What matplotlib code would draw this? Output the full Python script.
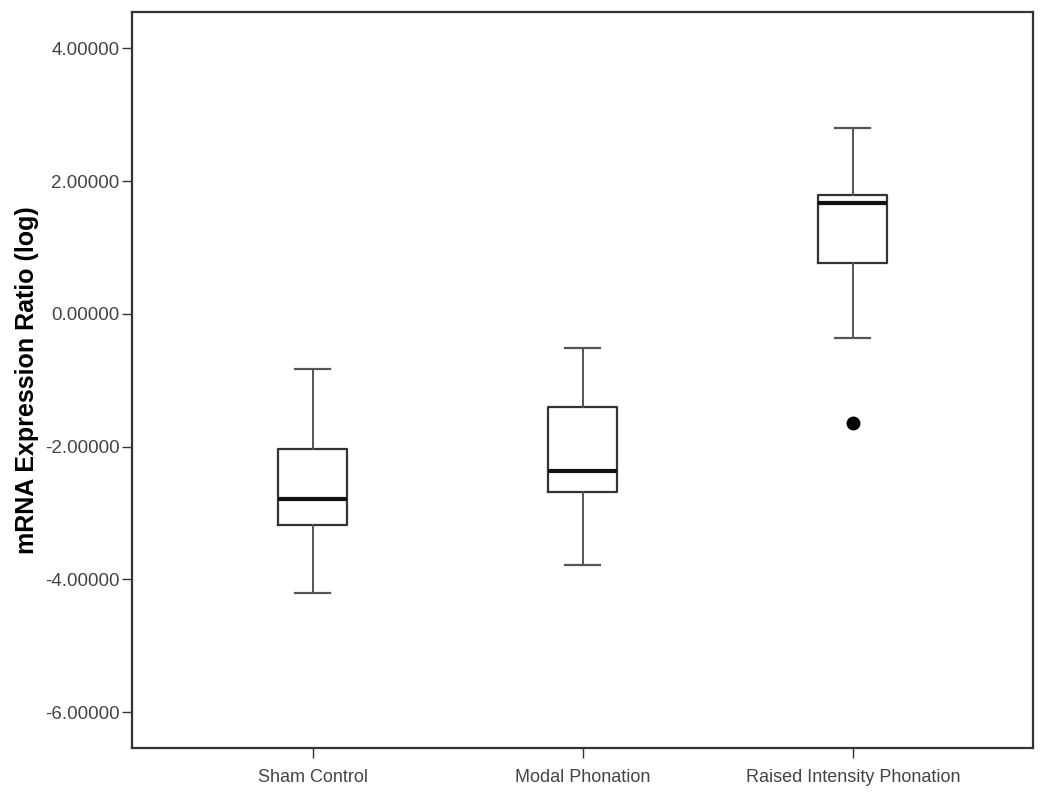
import matplotlib
matplotlib.use("Agg")
import matplotlib.pyplot as plt

# ==== データ ====
groups = ["Sham Control", "Modal Phonation", "Raised Intensity Phonation"]
whisker_low = [-4.21, -3.79, -0.37]
q1 = [-3.18, -2.69, 0.76]
median = [-2.79, -2.37, 1.67]
q3 = [-2.04, -1.40, 1.79]
whisker_high = [-0.83, -0.52, 2.80]
outliers = [[], [], [-1.65]]

yticks = [4.0, 2.0, 0.0, -2.0, -4.0, -6.0]

plt.rcParams["font.family"] = ["Liberation Sans", "DejaVu Sans"]

fig = plt.figure(figsize=(10.5, 7.98), dpi=100)
ax = fig.add_axes([0.1257, 0.0627, 0.8581, 0.9223])

stats = []
for i, name in enumerate(groups):
    stats.append(dict(
        label=name, whislo=whisker_low[i], q1=q1[i], med=median[i],
        q3=q3[i], whishi=whisker_high[i], fliers=outliers[i],
    ))

ax.bxp(
    stats, positions=[1, 2, 3], widths=0.255, showfliers=True,
    boxprops=dict(color="#333333", linewidth=1.6),
    whiskerprops=dict(color="#555555", linewidth=1.4),
    capprops=dict(color="#555555", linewidth=1.6),
    medianprops=dict(color="#111111", linewidth=3.0),
    flierprops=dict(marker="o", markerfacecolor="black", markeredgecolor="black",
                    markersize=9),
    capwidths=0.13,
)

ax.set_xlim(0.33, 3.667)
ax.set_ylim(-6.54, 4.55)
ax.set_yticks(yticks)
ax.set_yticklabels([f"{v:.5f}" for v in yticks])
ax.set_xticks([1, 2, 3])
ax.set_xticklabels(groups)

ax.tick_params(direction="out", length=7, width=1.0, color="#333333",
               labelsize=13.5, labelcolor="#444444", pad=2)
ax.tick_params(axis="x", labelsize=13, pad=8)
for side in ["left", "right", "top", "bottom"]:
    ax.spines[side].set_color("#333333")
    ax.spines[side].set_linewidth(1.6)

ax.set_ylabel("mRNA Expression Ratio (log)", fontsize=18, fontweight="bold")
ax.yaxis.set_label_coords(-0.103, 0.5)

fig.savefig("out.png", dpi=100)
